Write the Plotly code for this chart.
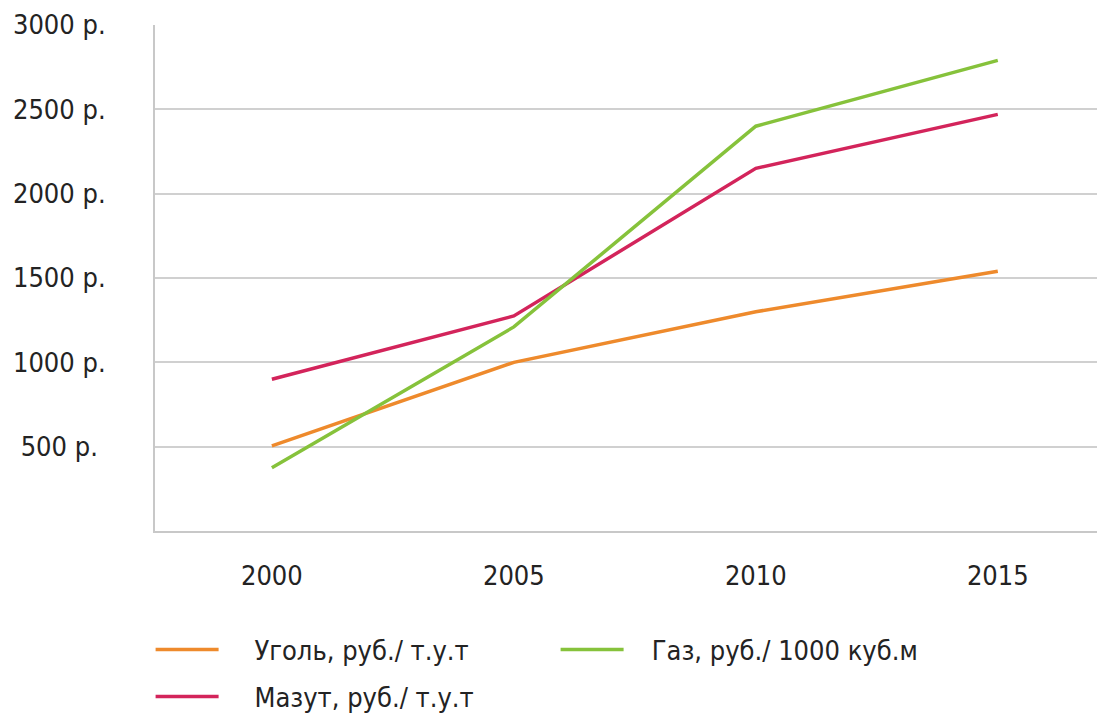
import plotly.graph_objects as go

years = ["2000", "2005", "2010", "2015"]
coal = [505, 1000, 1300, 1540]
fuel_oil = [900, 1275, 2150, 2470]
gas = [375, 1210, 2400, 2790]
y_ticks = [500, 1000, 1500, 2000, 2500, 3000]
y_ticktext = ["500 р.\u00a0", "1000 р.", "1500 р.", "2000 р.", "2500 р.", "3000 р."]
names = ["\u00a0" * 4 + "Уголь, руб./ т.у.т",
         "\u00a0" * 4 + "Мазут, руб./ т.у.т",
         "\u00a0" * 3 + "Газ, руб./ 1000 куб.м"]

FONT = "DejaVu Sans Condensed, DejaVu Sans, sans-serif"
TXT = "#232323"
FS = 27

fig = go.Figure()
fig.add_trace(go.Scatter(x=years, y=coal, mode="lines", name=names[0],
                         line=dict(color="#EE8A2C", width=3.5), legend="legend", legendrank=1))
fig.add_trace(go.Scatter(x=years, y=fuel_oil, mode="lines", name=names[1],
                         line=dict(color="#D3245B", width=3.5), legend="legend2", legendrank=3))
fig.add_trace(go.Scatter(x=years, y=gas, mode="lines", name=names[2],
                         line=dict(color="#86C23B", width=3.5), legend="legend", legendrank=2))

legend_common = dict(orientation="h", xanchor="left", yanchor="middle",
                     xref="container", yref="container",
                     font=dict(family=FONT, size=FS, color=TXT),
                     bgcolor="rgba(0,0,0,0)", itemwidth=63,
                     entrywidth=327, entrywidthmode="pixels")

fig.update_layout(
    width=1097, height=716,
    margin=dict(l=155, r=0, t=25, b=185),
    paper_bgcolor="white", plot_bgcolor="white",
    font=dict(family=FONT, size=FS, color=TXT),
    showlegend=True,
    legend=dict(x=150.6 / 1097, y=(716 - 650) / 716, **legend_common),
    legend2=dict(x=150.6 / 1097, y=(716 - 697) / 716, **legend_common),
    xaxis=dict(type="category", range=[-0.483, 3.41],
               showgrid=False, showline=True, linecolor="#C8C8C8", linewidth=2,
               ticks="", ticklabelstandoff=20,
               tickfont=dict(family=FONT, size=FS, color=TXT), zeroline=False),
    yaxis=dict(range=[0, 3000], tickvals=y_ticks, ticktext=y_ticktext,
               showgrid=True, gridcolor="#D0D0D0", gridwidth=2,
               showline=True, linecolor="#C8C8C8", linewidth=2,
               ticks="", ticklabelstandoff=42, zeroline=False,
               tickfont=dict(family=FONT, size=FS, color=TXT)),
)

fig.write_html("out.html", config={"displayModeBar": False},
               post_script="document.body.style.margin='0';")
